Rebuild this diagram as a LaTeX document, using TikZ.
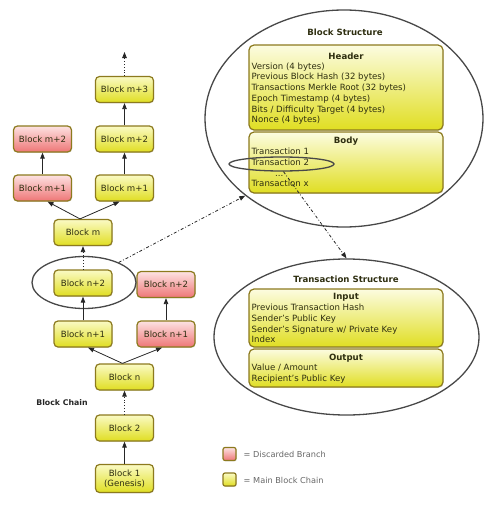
\documentclass[tikz,border=0pt]{standalone}
\usepackage{fontspec}
\setmainfont{DejaVu Sans}
\usetikzlibrary{arrows.meta,shapes.geometric,shadows}
\definecolor{ytop}{HTML}{FAFAC4}
\definecolor{ytopb}{HTML}{FCFCE0}
\definecolor{ybot}{HTML}{E0DE22}
\definecolor{rtop}{HTML}{FDE2E2}
\definecolor{rbot}{HTML}{EE7676}
\definecolor{bord}{HTML}{8C7A1E}
\definecolor{txtc}{HTML}{2E2E10}
\definecolor{elc}{HTML}{484848}
\tikzset{
  shd/.style={drop shadow={opacity=0.25, shadow xshift=0.7pt, shadow yshift=-0.9pt}},
  blk/.style={draw=bord, line width=1.2pt, rounded corners=4pt, top color=ytop, bottom color=ybot,
    minimum width=58, minimum height=26, font=\fontsize{8.6}{10}\selectfont, text=txtc, inner sep=1pt, shd},
  rblk/.style={blk, top color=rtop, bottom color=rbot},
  bbox/.style={draw=bord, line width=1.2pt, rounded corners=5pt, top color=ytopb, bottom color=ybot,
    minimum width=194, inner sep=0pt, shd},
  arr/.style={-{Triangle[length=6pt,width=4.5pt]}, line width=0.8pt, black!85},
  dotarr/.style={arr, dotted},
  ddarr/.style={arr, dash dot},
  ell/.style={draw=elc, line width=1.3pt, ellipse, inner sep=0pt},
  txt/.style={font=\fontsize{8.6}{10}\selectfont, text=txtc, anchor=west, inner sep=0pt, text height=6.3pt, text depth=1.8pt},
  ttl/.style={font=\bfseries\fontsize{8.6}{10}\selectfont, text=txtc, inner sep=0pt},
  leg/.style={font=\fontsize{8.2}{10}\selectfont, text=black!60, anchor=west, inner sep=0pt},
}
\begin{document}
\begin{tikzpicture}[x=1pt,y=-1pt]
\useasboundingbox (0,0) rectangle (500,506);
% ellipses (drawn first)
\node[ell, minimum width=278, minimum height=217] (bs) at (344,118.5) {};
\node[ell, minimum width=265, minimum height=156] (ts) at (346.5,337) {};
% block chain
\node[blk] (m3) at (124.5,89.5) {Block m+3};
\node[blk] (m2) at (124.5,139) {Block m+2};
\node[rblk] (m2r) at (42.5,139) {Block m+2};
\node[blk] (m1) at (124.5,188) {Block m+1};
\node[rblk] (m1r) at (42.5,188) {Block m+1};
\node[blk] (m) at (83,232.5) {Block m};
\node[blk] (n2) at (83,283) {Block n+2};
\node[rblk] (n2r) at (166,284.5) {Block n+2};
\node[blk] (n1) at (83,334) {Block n+1};
\node[rblk] (n1r) at (166,334) {Block n+1};
\node[blk] (n) at (124.5,377) {Block n};
\node[blk] (b2) at (124.5,428) {Block 2};
\node[blk, minimum height=28, align=center] (b1) at (124.5,478.5) {Block 1\\(Genesis)};
\node[font=\bfseries\fontsize{7.8}{9}\selectfont, text=black!85, inner sep=0pt] (bc) at (62,403) {Block Chain};
\node[ell, minimum width=104, minimum height=52] (e1) at (84,282.5) {};
\coordinate (top) at (124.5,52);
% connectors
\draw[dotarr] (m3) -- (top);
\draw[arr] (m2) -- (m3);
\draw[arr] (m1) -- (m2);
\draw[arr] (m1r) -- (m2r);
\draw[arr] ([xshift=-3]m.north) -- ([xshift=5]m1r.south);
\draw[arr] ([xshift=-3]m.north) -- ([xshift=-5]m1.south);
\draw[dotarr] (n2) -- (m);
\draw[arr] (n1) -- (n2);
\draw[arr] (n1r) -- (n2r);
\draw[arr] ([xshift=-2]n.north) -- ([xshift=5]n1.south);
\draw[arr] ([xshift=-2]n.north) -- ([xshift=-4]n1r.south);
\draw[dotarr] (b2) -- (n);
\draw[arr] (b1) -- (b2);
% block structure
\node[ttl] (bst) at (345,32) {Block Structure};
\node[bbox, minimum height=85] (hdr) at (346,87.5) {};
\node[bbox, minimum height=61] (body) at (346,162.5) {};
\node[ttl] (hdrt) at (346,56) {Header};
\node[txt] (h1) at (251.5,67) {Version (4 bytes)};
\node[txt] (h2) at (251.5,77.5) {Previous Block Hash (32 bytes)};
\node[txt] (h3) at (251.5,88.5) {Transactions Merkle Root (32 bytes)};
\node[txt] (h4) at (251.5,99) {Epoch Timestamp (4 bytes)};
\node[txt] (h5) at (251.5,110) {Bits / Difficulty Target (4 bytes)};
\node[txt] (h6) at (251.5,120.5) {Nonce (4 bytes)};
\node[ttl] (bodyt) at (346,141) {Body};
\node[txt] (t1) at (251.5,152) {Transaction 1};
\node[txt] (t2) at (251.5,163) {Transaction 2};
\node[txt] (tdots) at (275,174) {...};
\node[txt] (tx) at (251.5,184.5) {Transaction x};
\node[ell, minimum width=105, minimum height=14] (tx2) at (281.5,164) {};
% transaction structure
\node[ttl] (tst) at (346,279) {Transaction Structure};
\node[bbox, minimum height=58] (inp) at (346,318) {};
\node[bbox, minimum height=38] (out) at (346,368) {};
\node[ttl] (inpt) at (346,297) {Input};
\node[txt] (i1) at (251.5,308) {Previous Transaction Hash};
\node[txt] (i2) at (251.5,319) {Sender's Public Key};
\node[txt] (i3) at (251.5,330) {Sender's Signature w/ Private Key};
\node[txt] (i4) at (251.5,340.5) {Index};
\node[ttl] (outt) at (346,358) {Output};
\node[txt] (o1) at (251.5,368.5) {Value / Amount};
\node[txt] (o2) at (251.5,379) {Recipient's Public Key};
% dash-dot links
\draw[ddarr] (e1.30) -- (bs.218);
\draw[ddarr] ([xshift=2]tx2.south) -- (ts.north);
% legend
\node[rblk, minimum width=13, minimum height=13, rounded corners=2pt, inner sep=0pt] (lr) at (229.5,454) {};
\node[leg] (lrt) at (243.5,454) {= Discarded Branch};
\node[blk, minimum width=13, minimum height=13, rounded corners=2pt, inner sep=0pt] (ly) at (229.5,479.5) {};
\node[leg] (lyt) at (243.5,480) {= Main Block Chain};
\end{tikzpicture}
\end{document}
